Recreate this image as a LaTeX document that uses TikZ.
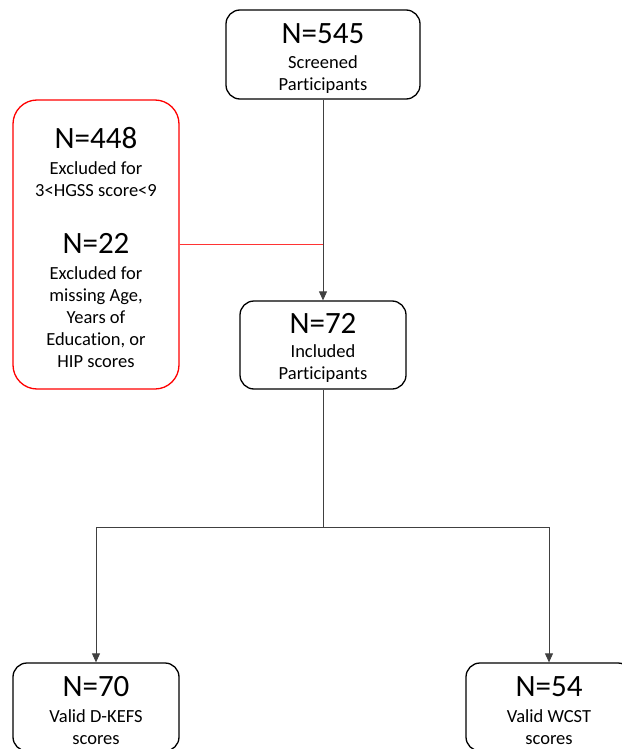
\documentclass[tikz,border=0pt]{standalone}
\usepackage{fontspec}
\setmainfont[Ligatures=NoCommon]{Carlito}
\usetikzlibrary{arrows.meta}
\begin{document}
\begin{tikzpicture}[x=1pt,y=-1pt,
  box/.style={draw=black,line width=1.3pt,rounded corners=14pt,inner sep=0pt},
  redbox/.style={draw=red,line width=1.3pt,rounded corners=24pt,inner sep=0pt},
  txt/.style={align=center,inner sep=0pt,anchor=north,font=\fontsize{18.5}{22}\selectfont},
  conn/.style={draw=black!75,line width=0.8pt},
  arr/.style={conn,-{Triangle[length=9pt,width=8pt]}},
  redline/.style={draw=red!80,line width=0.7pt}]
\newcommand{\bign}[1]{{\fontsize{31}{31}\selectfont #1}}
\useasboundingbox (0,0) rectangle (621,749);
% boxes
\node[box,minimum width=194pt,minimum height=89pt] (top) at (323,54.5) {};
\node[redbox,minimum width=166pt,minimum height=289pt] (excl) at (96,244.5) {};
\node[box,minimum width=166pt,minimum height=88pt] (mid) at (323,345) {};
\node[box,minimum width=166pt,minimum height=88pt] (dk) at (96,707) {};
\node[box,minimum width=166pt,minimum height=88pt] (wc) at (549,707) {};
% texts
\node[txt] (topt) at (323,23) {\bign{N=545}\\[3pt] Screened\\ Participants};
\node[txt] (exclt) at (96,127) {\bign{N=448}\\[4pt] Excluded for\\ 3<HGSS score<9\\[35pt]
  \bign{N=22}\\[4pt] Excluded for\\ missing Age,\\ Years of\\ Education, or\\ HIP scores};
\node[txt] (midt) at (323,313) {\bign{N=72}\\[2pt] Included\\ Participants};
\node[txt] (dkt) at (96,676) {\bign{N=70}\\[4pt] Valid D-KEFS\\ scores};
\node[txt] (wct) at (549,676) {\bign{N=54}\\[4pt] Valid WCST\\ scores};
% connectors
\coordinate (split) at (323,527);
\draw[arr] (top.south) -- (mid.north);
\draw[redline] (excl.east) -- (excl.east -| top.south);
\draw[conn] (mid.south) -- (split);
\draw[arr] (split) -| (dk.north);
\draw[arr] (split) -| (wc.north);
\end{tikzpicture}
\end{document}
